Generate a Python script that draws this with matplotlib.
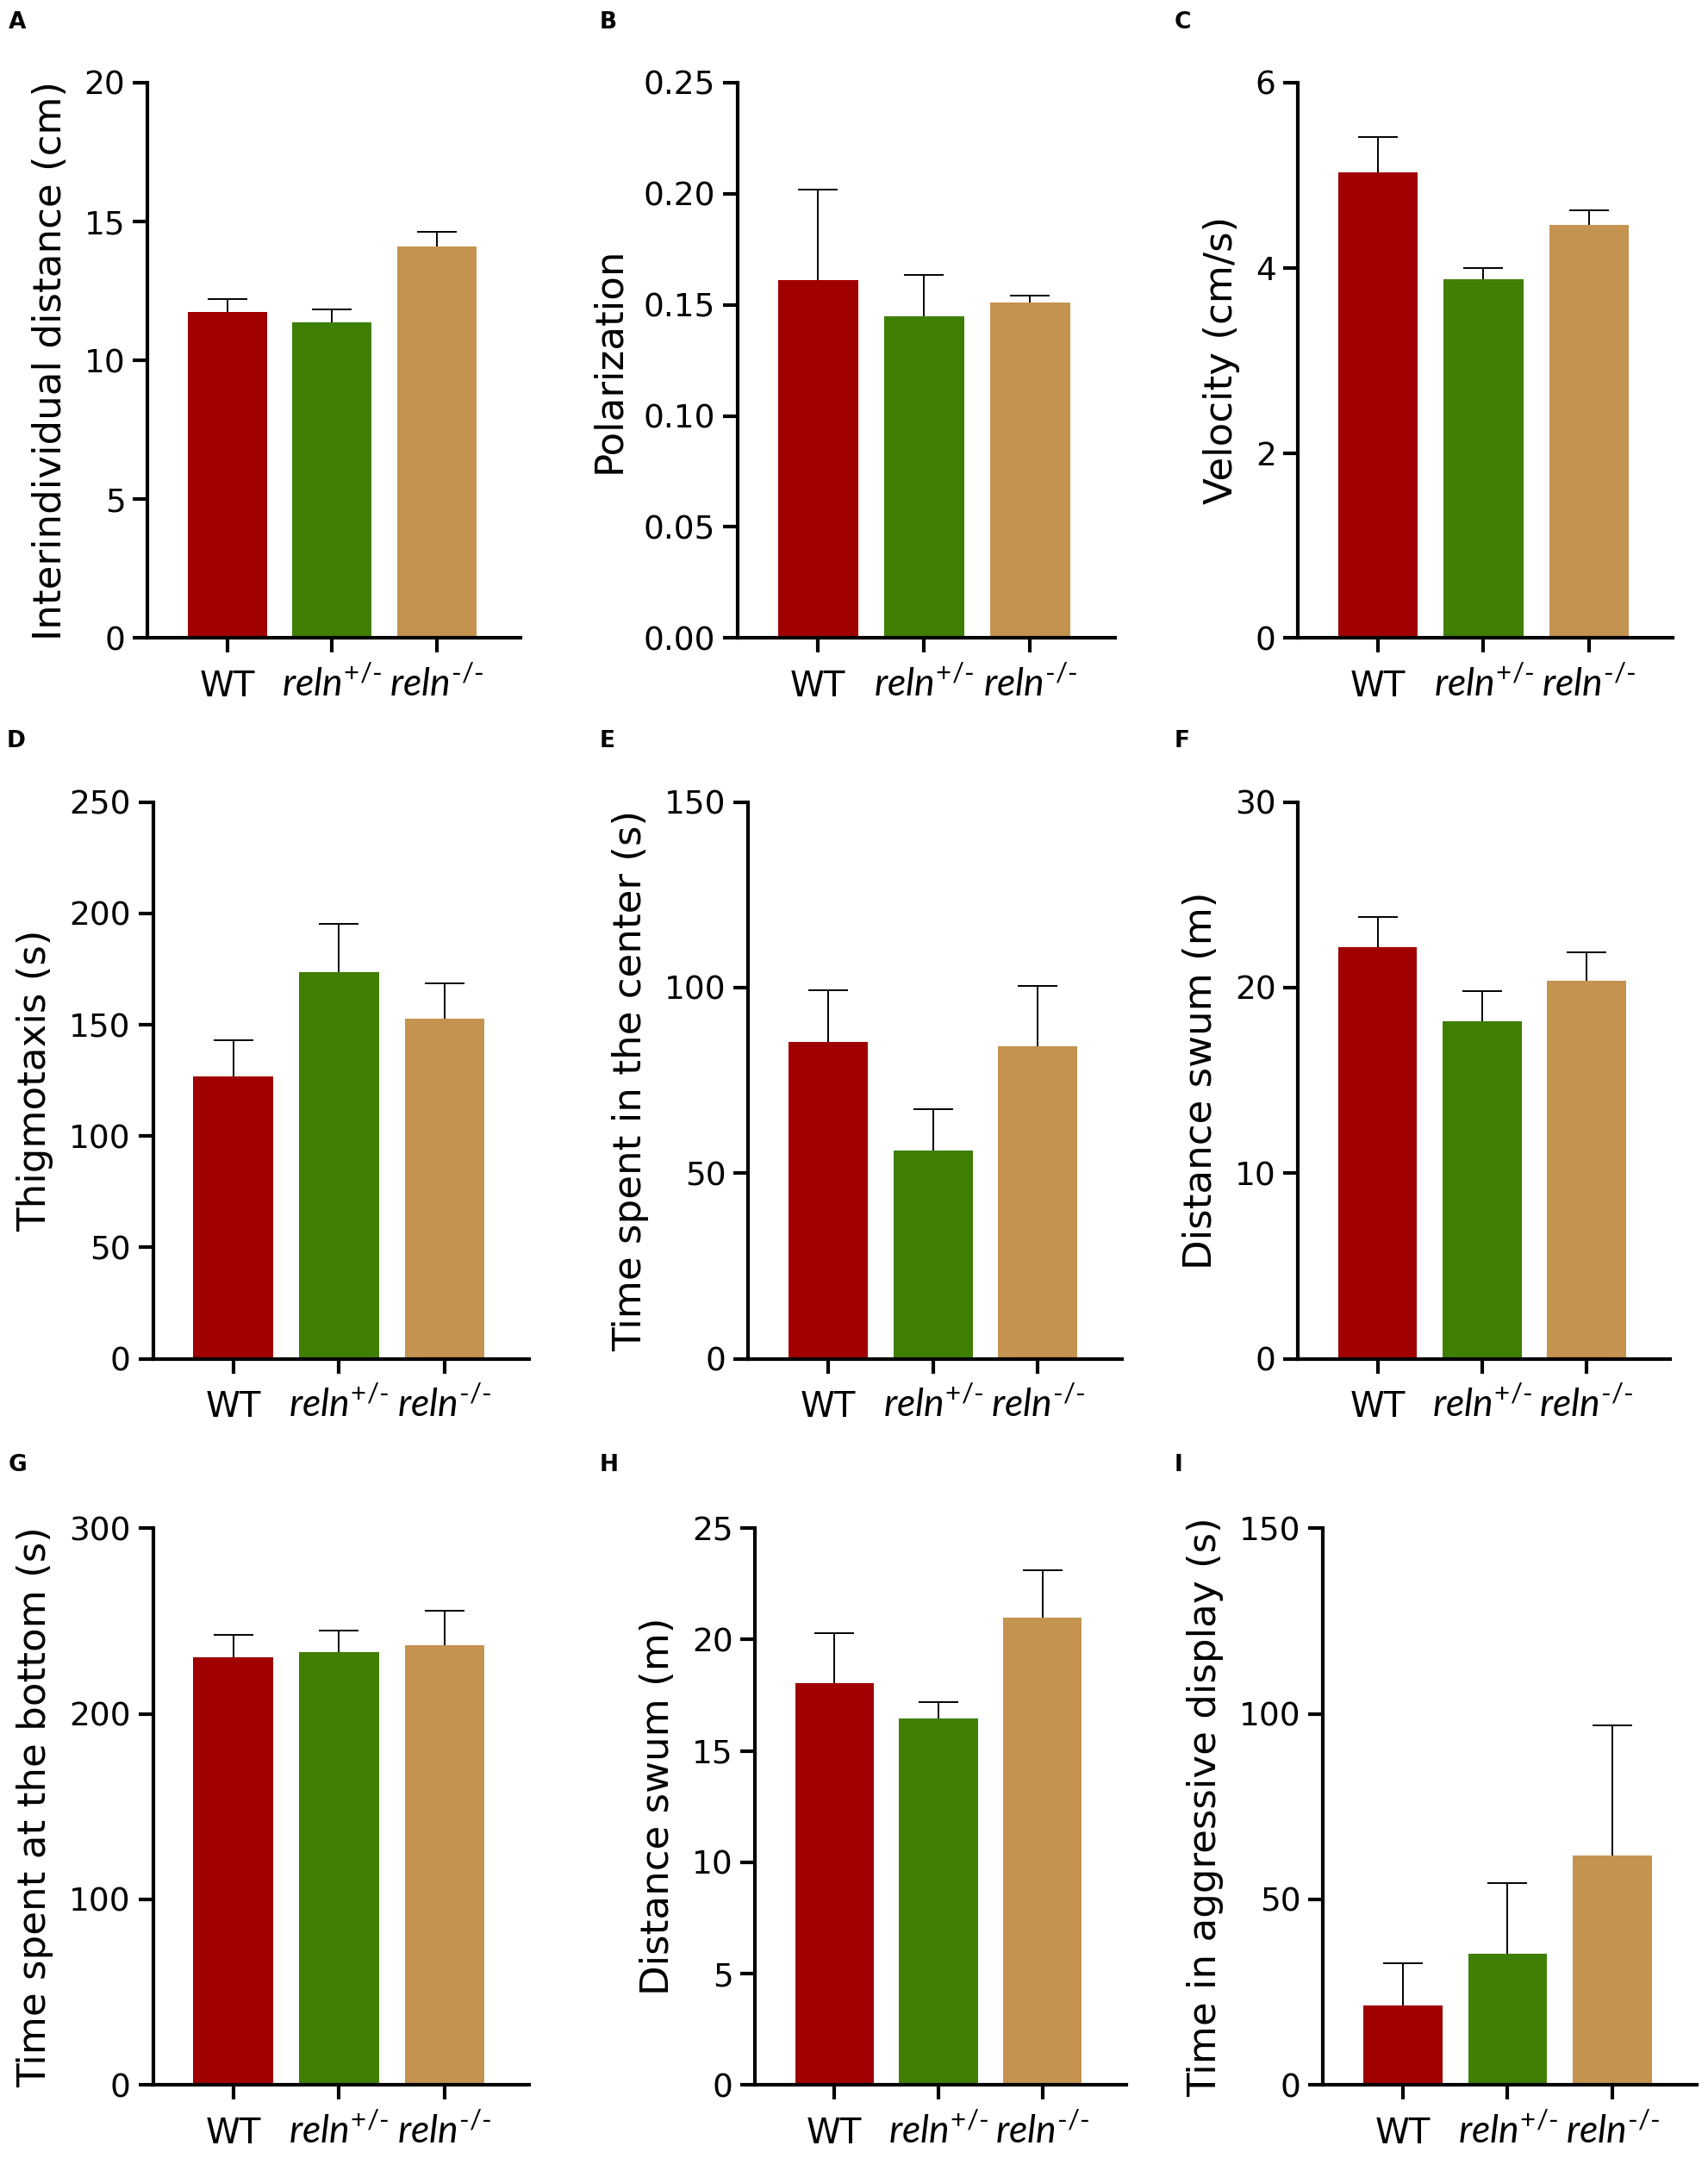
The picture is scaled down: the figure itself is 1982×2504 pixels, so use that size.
import matplotlib
matplotlib.use("Agg")
import matplotlib.pyplot as plt

plt.rcParams["mathtext.fontset"] = "custom"
plt.rcParams["mathtext.rm"] = "Lato"
plt.rcParams["mathtext.it"] = "Lato:italic"

groups = ["WT", r"$\mathit{reln}^{\text{+/-}}$", r"$\mathit{reln}^{\text{-/-}}$"]
colors = ["#a00000", "#3f7f03", "#c4934f"]

letters = ["A", "B", "C", "D", "E", "F", "G", "H", "I"]
ylabels = [
    "Interindividual distance (cm)",
    "Polarization",
    "Velocity (cm/s)",
    "Thigmotaxis (s)",
    "Time spent in the center (s)",
    "Distance swum (m)",
    "Time spent at the bottom (s)",
    "Distance swum (m)",
    "Time in aggressive display (s)",
]
ymax = [20, 0.25, 6, 250, 150, 30, 300, 25, 150]
ystep = [5, 0.05, 2, 50, 50, 10, 100, 5, 50]
ydec = [0, 2, 0, 0, 0, 0, 0, 0, 0]

means = [
    [11.75, 11.37, 14.09],
    [0.161, 0.145, 0.151],
    [5.03, 3.88, 4.46],
    [126.8, 173.7, 152.8],
    [85.3, 56.2, 84.3],
    [22.17, 18.19, 20.35],
    [230.5, 233.2, 236.8],
    [18.05, 16.44, 20.98],
    [21.5, 35.4, 61.9],
]
sems = [
    [0.45, 0.46, 0.55],
    [0.041, 0.0185, 0.003],
    [0.38, 0.12, 0.16],
    [16.4, 21.7, 15.8],
    [13.9, 11.1, 16.1],
    [1.62, 1.60, 1.53],
    [12.2, 11.7, 18.6],
    [2.23, 0.76, 2.15],
    [11.4, 19.1, 35.0],
]

# layout measured on a 1240 x 1566 grid
W, H = 1240.0, 1566.0
rows = [(60, 463), (582, 986), (1109, 1513)]
cols = [
    [(107, 378), (535, 809), (942, 1214)],
    [(111, 384), (543, 814), (942, 1212)],
    [(111, 384), (548, 817), (960, 1231)],
]
letter_xy = [(6, 8), (435, 8), (852, 8),
             (5, 530), (435, 530), (852, 530),
             (6, 1055), (435, 1055), (852, 1055)]

fig = plt.figure(figsize=(19.83, 25.04), dpi=100)

for i in range(9):
    r, c = divmod(i, 3)
    top, bot = rows[r]
    left, right = cols[r][c]
    ax = fig.add_axes([left / W, 1 - bot / H, (right - left) / W, (bot - top) / H])

    x = range(3)
    # symmetric bars drawn under the columns, so only the upper half shows
    ax.errorbar(x, means[i], yerr=sems[i], fmt="none",
                ecolor="black", elinewidth=1.4, capsize=16.5, capthick=1.4, zorder=1)
    ax.bar(x, means[i], width=0.755, color=colors, zorder=2)

    ax.set_xlim(-0.76, 2.8)
    ax.set_ylim(0, ymax[i])
    n = int(round(ymax[i] / ystep[i]))
    ticks = [k * ystep[i] for k in range(n + 1)]
    ax.set_yticks(ticks, [f"{t:.{ydec[i]}f}" for t in ticks], fontsize=27, family="DejaVu Sans")
    ax.set_xticks(list(x), groups, fontsize=29, va="baseline")
    for lab in ax.get_xticklabels()[1:]:
        lab.set_fontsize(32)
    ax.set_ylabel(ylabels[i], fontsize=32.5, family="DejaVu Sans", labelpad=13)

    for s in ["top", "right"]:
        ax.spines[s].set_visible(False)
    for s in ["left", "bottom"]:
        ax.spines[s].set_linewidth(3)
    ax.tick_params(axis="both", length=12.5, width=3)
    ax.tick_params(axis="y", pad=6)
    ax.tick_params(axis="x", pad=36)

    lx, ly = letter_xy[i]
    fig.text(lx / W, 1 - ly / H, letters[i], fontsize=19, fontweight="bold",
             ha="left", va="top")

fig.savefig("out.png", dpi=100)
